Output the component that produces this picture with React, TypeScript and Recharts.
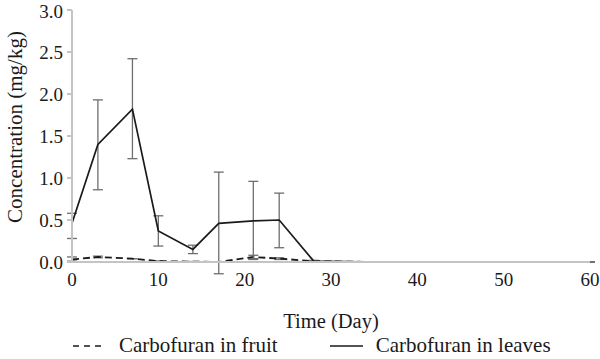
import { LineChart, Line, XAxis, YAxis, ErrorBar, Legend } from "recharts";

const days = [0, 3, 7, 10, 14, 17, 21, 24, 28, 35, 42, 49, 60];

const fruit = [0.03, 0.06, 0.04, 0.01, 0.005, 0.0, 0.06, 0.04, 0.01, 0.0, 0.0, 0.0, 0.0];
const fruitLow = [0.01, 0.05, 0.04, 0.01, 0.005, 0.0, 0.04, 0.03, 0.005, 0.0, 0.0, 0.0, 0.0];
const fruitHigh = [0.06, 0.07, 0.04, 0.01, 0.005, 0.0, 0.08, 0.05, 0.015, 0.0, 0.0, 0.0, 0.0];

const leaves = [0.46, 1.4, 1.82, 0.37, 0.15, 0.46, 0.49, 0.5, 0.01, 0.0, 0.0, 0.0, 0.0];
const leavesLow = [0.28, 0.86, 1.23, 0.19, 0.1, -0.14, 0.03, 0.17, 0.0, 0.0, 0.0, 0.0, 0.0];
const leavesHigh = [0.58, 1.93, 2.42, 0.55, 0.2, 1.07, 0.96, 0.82, 0.02, 0.0, 0.0, 0.0, 0.0];

const xTicks = [0, 10, 20, 30, 40, 50, 60];
const yTicks = [0, 0.5, 1.0, 1.5, 2.0, 2.5, 3.0];

const data = days.map((d, i) => ({
  day: d,
  fruit: fruit[i],
  fruitErr: [fruit[i] - fruitLow[i], fruitHigh[i] - fruit[i]],
  leaves: leaves[i],
  leavesErr: [leaves[i] - leavesLow[i], leavesHigh[i] - leaves[i]],
}));

const FONT = "'Liberation Serif', 'DejaVu Serif', serif";
const INK = "#1a1a1a";
const AXIS = "#c4c4c4";

const renderLegend = (props: any) => {
  const { payload = [] } = props;
  return (
    <div style={{ display: "flex", alignItems: "center", paddingLeft: 73, fontFamily: FONT, fontSize: 21, color: INK, lineHeight: "27px" }}>
      {payload.map((entry: any, i: number) => (
        <div key={i} style={{ display: "flex", alignItems: "center", marginRight: i === 0 ? 52 : 0 }}>
          <svg width={33} height={10} style={{ marginRight: 13 }}>
            <line
              x1={0}
              y1={5}
              x2={33}
              y2={5}
              stroke={INK}
              strokeWidth={1.6}
              strokeDasharray={entry.payload?.strokeDasharray ? "6 5" : undefined}
            />
          </svg>
          <span>{entry.value}</span>
        </div>
      ))}
    </div>
  );
};

const renderYLabel = (props: any) => {
  const vb = props.viewBox || {};
  const cy = (vb.y ?? 10) + (vb.height ?? 252) / 2 - 9;
  return (
    <text
      x={15}
      y={cy}
      transform={`rotate(-90, 15, ${cy})`}
      textAnchor="middle"
      dominantBaseline="central"
      fontFamily={FONT}
      fontSize={21}
      fill={INK}
    >
      Concentration (mg/kg)
    </text>
  );
};

export default function App() {
  return (
    <div style={{ position: "absolute", left: 0, top: 0, background: "#fff" }}>
      <LineChart width={600} height={359} data={data} margin={{ top: 10, right: 10, left: 0, bottom: 0 }}>
        <XAxis
          dataKey="day"
          type="number"
          domain={[0, 60]}
          ticks={xTicks}
          tickLine={false}
          axisLine={{ stroke: AXIS, strokeWidth: 2 }}
          tick={{ fontFamily: FONT, fontSize: 19, fill: INK }}
          tickMargin={5}
          height={70}
          label={{ value: "Time (Day)", position: "insideBottom", offset: 4, fontFamily: FONT, fontSize: 20.5, fill: INK }}
        />
        <YAxis
          type="number"
          domain={[0, 3]}
          ticks={yTicks}
          width={72}
          tickFormatter={(v: number) => v.toFixed(1)}
          tickLine={{ stroke: AXIS, strokeWidth: 2 }}
          tickSize={5}
          tickMargin={4}
          axisLine={{ stroke: AXIS, strokeWidth: 2 }}
          tick={{ fontFamily: FONT, fontSize: 19, fill: INK }}
          allowDataOverflow
          label={{ content: renderYLabel }}
        />
        <Legend verticalAlign="bottom" height={27} content={renderLegend} wrapperStyle={{ left: 0, width: 600 }} />
        <Line
          name="Carbofuran in fruit"
          dataKey="fruit"
          stroke={INK}
          strokeWidth={1.8}
          strokeDasharray="7 4"
          dot={false}
          isAnimationActive={false}
        >
          <ErrorBar dataKey="fruitErr" width={5} stroke="#6e6e6e" strokeWidth={1.3} direction="y" />
        </Line>
        <Line
          name="Carbofuran in leaves"
          dataKey="leaves"
          stroke={INK}
          strokeWidth={1.7}
          dot={false}
          isAnimationActive={false}
        >
          <ErrorBar dataKey="leavesErr" width={5} stroke="#6e6e6e" strokeWidth={1.3} direction="y" />
        </Line>
      </LineChart>
    </div>
  );
}
